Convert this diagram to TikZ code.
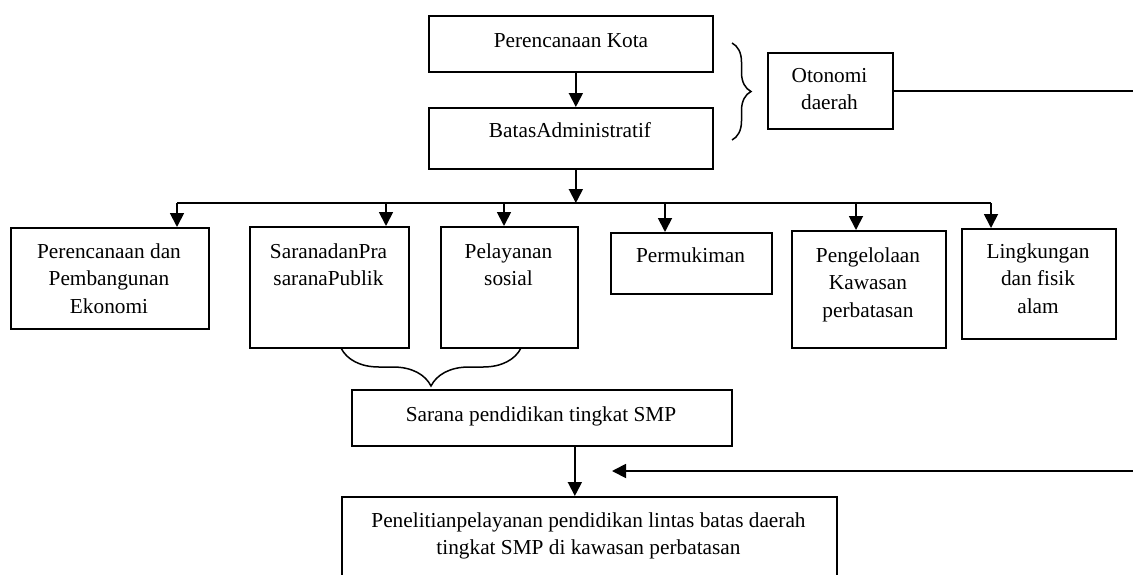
\documentclass[tikz,border=0pt]{standalone}
\usepackage{fontspec}
\setmainfont{Liberation Serif}
\usetikzlibrary{arrows.meta,decorations.pathreplacing}
\newcommand\mystrut{\rule{0pt}{16pt}}
\begin{document}
\begin{tikzpicture}[x=1pt,y=-1pt,
  box/.style={draw, line width=1.7pt, inner sep=0pt, anchor=north west},
  lbl/.style={inner sep=0pt, outer sep=0pt, align=center, anchor=north,
    font=\fontsize{21.3}{27.5}\selectfont},
  conn/.style={line width=1.8pt},
  arr/.style={line width=1.8pt, -{Triangle[length=14pt,width=14pt]}},
  brc/.style={line width=1.5pt, decorate, decoration={brace, amplitude=#1}}]
\useasboundingbox (0,0) rectangle (1133,574);
\clip (0,0) rectangle (1133,574);

% boxes
\node[box, minimum width=284pt, minimum height=56pt] (kota) at (428,15) {};
\node[box, minimum width=284pt, minimum height=61pt] (batas) at (428,107) {};
\node[box, minimum width=125pt, minimum height=76pt] (oto) at (767,52) {};
\node[box, minimum width=198pt, minimum height=101pt] (pp) at (10,227) {};
\node[box, minimum width=159pt, minimum height=121pt] (sp) at (249,226) {};
\node[box, minimum width=137pt, minimum height=121pt] (pel) at (440,226) {};
\node[box, minimum width=161pt, minimum height=61pt] (perm) at (610,232) {};
\node[box, minimum width=154pt, minimum height=117pt] (peng) at (791,230) {};
\node[box, minimum width=154pt, minimum height=110pt] (ling) at (961,228) {};
\node[box, minimum width=380pt, minimum height=56pt] (spd) at (351,389) {};
\node[box, minimum width=495pt, minimum height=110pt] (pen) at (341,496) {};

% labels
\node[lbl] (tkota) at (571,31) {\mystrut Perencanaan Kota};
\node[lbl] (tbatas) at (570,121) {\mystrut BatasAdministratif};
\node[lbl] (toto) at (829.5,66) {\mystrut Otonomi\\daerah};
\node[lbl] (tpp) at (109,242) {\mystrut Perencanaan dan\\Pembangunan\\Ekonomi};
\node[lbl] (tsp) at (328.5,242) {\mystrut SaranadanPra\\saranaPublik};
\node[lbl] (tpel) at (508.5,242) {\mystrut Pelayanan\\sosial};
\node[lbl] (tperm) at (690.5,246) {\mystrut Permukiman};
\node[lbl] (tpeng) at (868,246) {\mystrut Pengelolaan\\Kawasan\\perbatasan};
\node[lbl] (tling) at (1038,242) {\mystrut Lingkungan\\dan fisik\\alam};
\node[lbl] (tspd) at (541,405) {\mystrut Sarana pendidikan tingkat SMP};
\node[lbl] (tpen) at (588.5,511) {\mystrut Penelitianpelayanan pendidikan lintas batas daerah\\tingkat SMP di kawasan perbatasan};

% top flow
\draw[arr] ([xshift=5pt]kota.south) -- ([xshift=5pt]batas.north);
\coordinate (hl) at (177,203);
\coordinate (hr) at (991,203);
\draw[arr] ([xshift=5pt]batas.south) -- ([xshift=5pt]batas.south |- hl);
\draw[conn] (hl) -- (hr);
\coordinate (a2) at (386,203);
\coordinate (a3) at (504,203);
\coordinate (a4) at (665,203);
\coordinate (a5) at (856,203);
\draw[arr] (hl) -- (hl |- pp.north);
\draw[arr] (a2) -- (a2 |- sp.north);
\draw[arr] (a3) -- (a3 |- pel.north);
\draw[arr] (a4) -- (a4 |- perm.north);
\draw[arr] (a5) -- (a5 |- peng.north);
\draw[arr] (hr) -- (hr |- ling.north);

% braces
\coordinate (b1s) at (732,43);
\coordinate (b1e) at (732,140);
\draw[brc=19pt] (b1s) -- (b1e);
\coordinate (b2s) at (521,348);
\coordinate (b2e) at (341,348);
\draw[brc=38pt] (b2s) -- (b2e);

% right side connectors
\coordinate (re1) at (1140,90);
\draw[conn] (oto.east) -- (oto.east -| re1);
\coordinate (re2) at (1140,471);
\coordinate (tip2) at (612,471);
\draw[arr] (re2) -- (tip2);

% to research box
\draw[arr] ([xshift=33pt]spd.south) -- ([xshift=33pt]spd.south |- pen.north);
\end{tikzpicture}
\end{document}
